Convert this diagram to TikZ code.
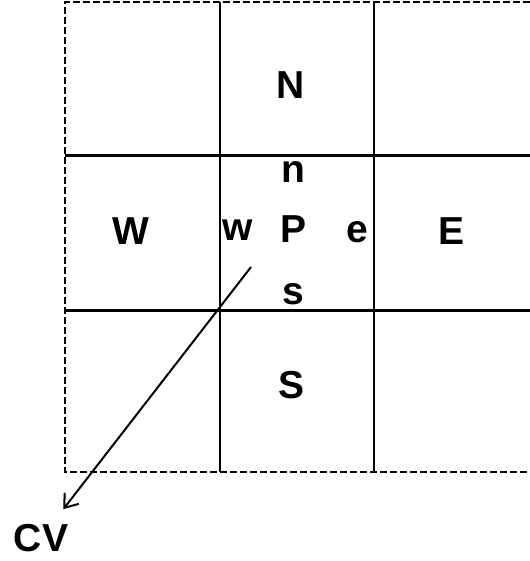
\documentclass[tikz,border=0pt]{standalone}
\usepackage{fontspec}
\setmainfont{Liberation Sans}
\usetikzlibrary{arrows.meta}
\pgfdeclarelayer{edgelayer}
\pgfdeclarelayer{nodelayer}
\pgfsetlayers{edgelayer,nodelayer,main}
\tikzstyle{gridline}=[draw=black, line width=1.2pt]
\tikzstyle{border}=[draw=black, line width=1.1pt, dash pattern=on 3.5pt off 1.5pt]
\tikzstyle{cellname}=[font=\fontsize{19.5}{21}\selectfont\bfseries, inner sep=1pt]
\tikzstyle{flux}=[draw=black, line width=1pt, -{Straight Barb[length=6pt,width=9pt]}]

\begin{document}
\begin{tikzpicture}[x=0.5pt, y=-0.5pt]
				\useasboundingbox (0, 0) rectangle (529, 561);
				\begin{pgfonlayer}{nodelayer}
					\node [style=cellname] (N) at (291, 85) {N};
					\node [style=cellname] (S) at (292, 385) {S};
					\node [style=cellname] (W) at (131, 231) {W};
					\node [style=cellname] (E) at (451, 231) {E};
					\node [style=cellname] (P) at (293, 229) {P};
					\node [style=cellname] (n) at (293, 172) {n};
					\node [style=cellname] (s) at (293, 294) {s};
					\node [style=cellname] (w) at (238, 230) {w};
					\node [style=cellname] (e) at (357, 232) {e};
					\node [style=cellname] (cv) at (41, 538) {CV};
					\coordinate (tail) at (251, 267);
				\end{pgfonlayer}
				\begin{pgfonlayer}{edgelayer}
					% control volume boundary
					\draw [style=border] (540, 2) -- (65, 2) -- (65, 472) -- (540, 472);
					\draw [style=gridline] (220, 2) -- (220, 472);
					\draw [style=gridline] (374, 2) -- (374, 472);
					\draw [style=gridline] (65, 155.5) -- (540, 155.5);
					\draw [style=gridline] (65, 310.5) -- (540, 310.5);
					\draw [style=flux, shorten >=8pt] (tail) -- (cv);
				\end{pgfonlayer}
			\end{tikzpicture}
\end{document}
